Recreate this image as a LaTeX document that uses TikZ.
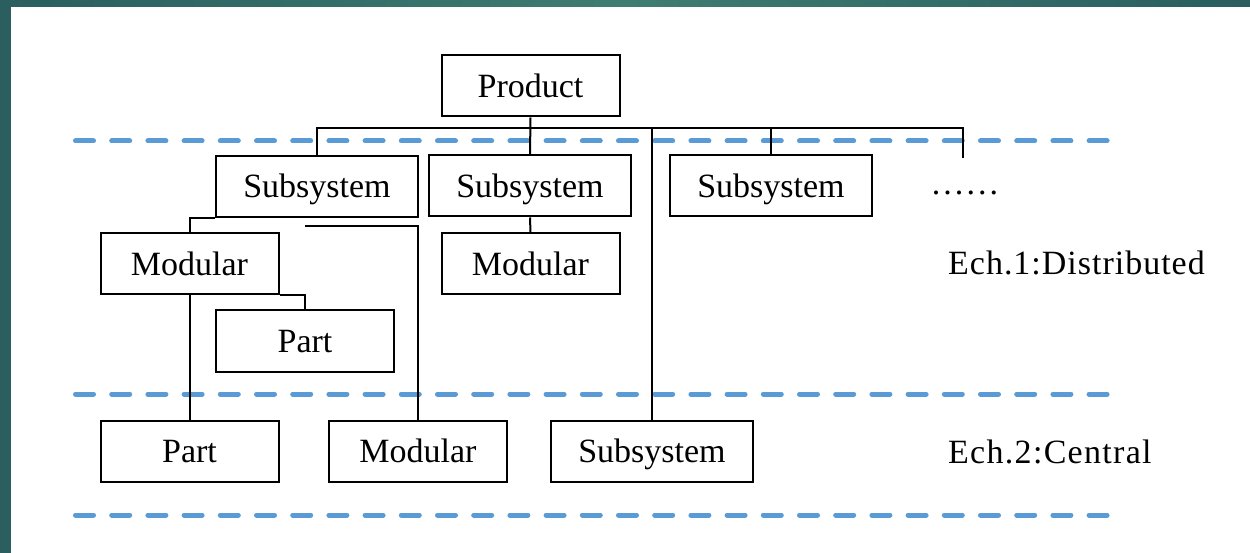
\documentclass[tikz,border=0pt]{standalone}
\usepackage{fontspec}
\setmainfont{Liberation Serif}
\definecolor{teal1}{HTML}{2A5E5F}
\definecolor{teal2}{HTML}{3F7C71}
\definecolor{dashblue}{HTML}{5B9BD5}
\begin{document}
\begin{tikzpicture}[x=1pt,y=-1pt,
  box/.style={draw=black, line width=2pt, rectangle, inner sep=0pt,
    minimum height=61pt, text height=26pt, text depth=3pt,
    font=\fontsize{34}{40}\selectfont},
  narrowbox/.style={box, minimum width=178pt},
  widebox/.style={box, minimum width=202pt},
  conn/.style={draw=black, line width=2pt},
  level/.style={draw=dashblue, line width=5pt, line cap=round, dash pattern=on 18pt off 18.2pt},
  lab/.style={inner sep=0pt, text height=26pt, text depth=3pt, font=\fontsize{34}{40}\selectfont}
]
\useasboundingbox (0,0) rectangle (1250,553);
\fill[white] (0,0) rectangle (1250,553);
% frame stripes
\shade[left color=teal1, right color=teal1, middle color=teal2, shading angle=90] (0,0) rectangle (1250,7);
\fill[teal1] (0,0) rectangle (11,553);

% dashed level lines
\coordinate (l1a) at (75.5,141); \coordinate (l1b) at (1110,141);
\coordinate (l2a) at (75.5,394); \coordinate (l2b) at (1110,394);
\coordinate (l3a) at (75.5,515); \coordinate (l3b) at (1110,515);
\draw[level] (l1a) -- (l1b);
\draw[level] (l2a) -- (l2b);
\draw[level] (l3a) -- (l3b);

% nodes
\node[narrowbox] (prod) at (530.5,86) {Product};
\node[widebox] (sub1) at (317,186.5) {Subsystem};
\node[widebox] (sub2) at (530,186) {Subsystem};
\node[widebox] (sub3) at (771,186) {Subsystem};
\node[lab, font=\fontsize{34}{40}\selectfont\addfontfeature{LetterSpace=9}] (dots) at (965,183) {......};
\node[narrowbox] (mod1) at (189.5,264) {Modular};
\node[narrowbox] (mod2) at (530.5,264) {Modular};
\node[narrowbox] (part1) at (305,341) {Part};
\node[narrowbox] (part2) at (189.5,451) {Part};
\node[narrowbox] (mod3) at (418,451) {Modular};
\node[widebox] (sub4) at (652,451) {Subsystem};

\node[lab, anchor=west, font=\fontsize{34}{40}\selectfont\addfontfeature{LetterSpace=2.9}] (ech1) at (948,263) {Ech.1:Distributed};
\node[lab, anchor=west, font=\fontsize{34}{40}\selectfont\addfontfeature{LetterSpace=3.8}] (ech2) at (948,452) {Ech.2:Central};

% connectors
\coordinate (busL) at (317,128);
\coordinate (busR) at (963,128);
\coordinate (dotsend) at (963,158);
\coordinate (free) at (305,226);
\draw[conn] (prod.south) -- (sub2.north);
\draw[conn] (sub1.north) -- (busL) -- (busR) -- (dotsend);
\draw[conn] (sub3.north) -- (sub3.north |- busL);
\draw[conn] (sub4.north) -- (sub4.north |- busL);
\draw[conn] (sub1.south west) -| (mod1.north);
\draw[conn] (free) -| (mod3.north);
\draw[conn] (mod1.south east) -| (part1.north);
\draw[conn] (mod1.south) -- (part2.north);
\draw[conn] (sub2.south) -- (mod2.north);
\end{tikzpicture}
\end{document}
